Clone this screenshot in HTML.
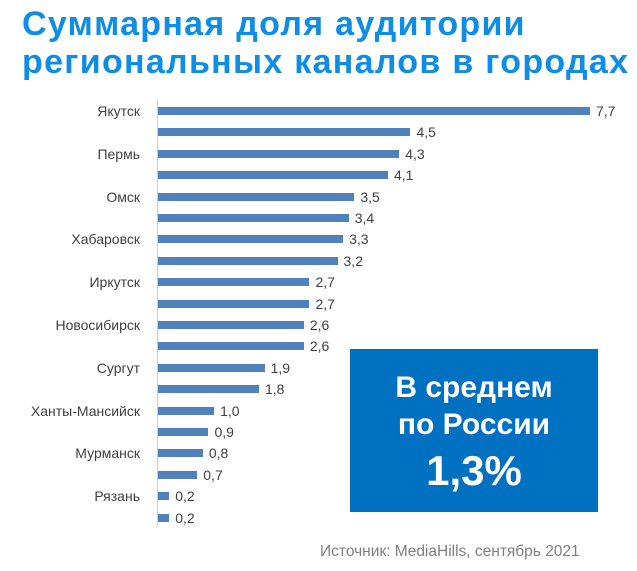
<!DOCTYPE html><html><head><meta charset="utf-8"><style>
body{margin:0;width:637px;height:571px;background:#fff;position:relative;font-family:"Liberation Sans",sans-serif;overflow:hidden}
.t{position:absolute;left:22px;font-weight:bold;color:#0d8de6;font-size:34px;line-height:38px;white-space:nowrap;letter-spacing:1.3px}
.b{position:absolute;left:158px;height:8px;background:#4f81bd}
.v{position:absolute;font-size:14px;color:#404040}
.l{position:absolute;right:497px;font-size:14px;color:#404040;text-align:right;white-space:nowrap}
</style></head><body>
<div class="t" style="top:5px">Суммарная доля аудитории</div>
<div class="t" style="top:43px">региональных каналов в городах</div>
<div style="position:absolute;left:157px;top:100px;width:1px;height:426px;background:#d0d0d0"></div>
<div id="c"></div>
<div style="position:absolute;left:350px;top:349px;width:248px;height:163px;background:#0070c0;color:#fff;text-align:center;font-weight:bold">
<div style="font-size:30px;margin-top:20px;line-height:37px">В среднем<br>по России</div>
<div style="font-size:42px;line-height:48px;margin-top:4px">1,3%</div></div>
<div style="position:absolute;left:320px;top:543px;font-size:15.5px;color:#7f7f7f">Источник: MediaHills, сентябрь 2021</div>
<script>
var v=[7.7,4.5,4.3,4.1,3.5,3.4,3.3,3.2,2.7,2.7,2.6,2.6,1.9,1.8,1.0,0.9,0.8,0.7,0.2,0.2];
var n={0:"Якутск",2:"Пермь",4:"Омск",6:"Хабаровск",8:"Иркутск",10:"Новосибирск",12:"Сургут",14:"Ханты-Мансийск",16:"Мурманск",18:"Рязань"};
var h="";
for(var i=0;i<20;i++){var y=111+i*21.4,w=v[i]*56.1;
h+='<div class="b" style="top:'+(y-4)+'px;width:'+w+'px"></div>';
h+='<div class="v" style="top:'+(y-8)+'px;left:'+(158+w+6)+'px">'+v[i].toFixed(1).replace(".",",")+'</div>';
if(n[i])h+='<div class="l" style="top:'+(y-8)+'px">'+n[i]+'</div>';}
document.getElementById("c").innerHTML=h;
</script>
</body></html>
